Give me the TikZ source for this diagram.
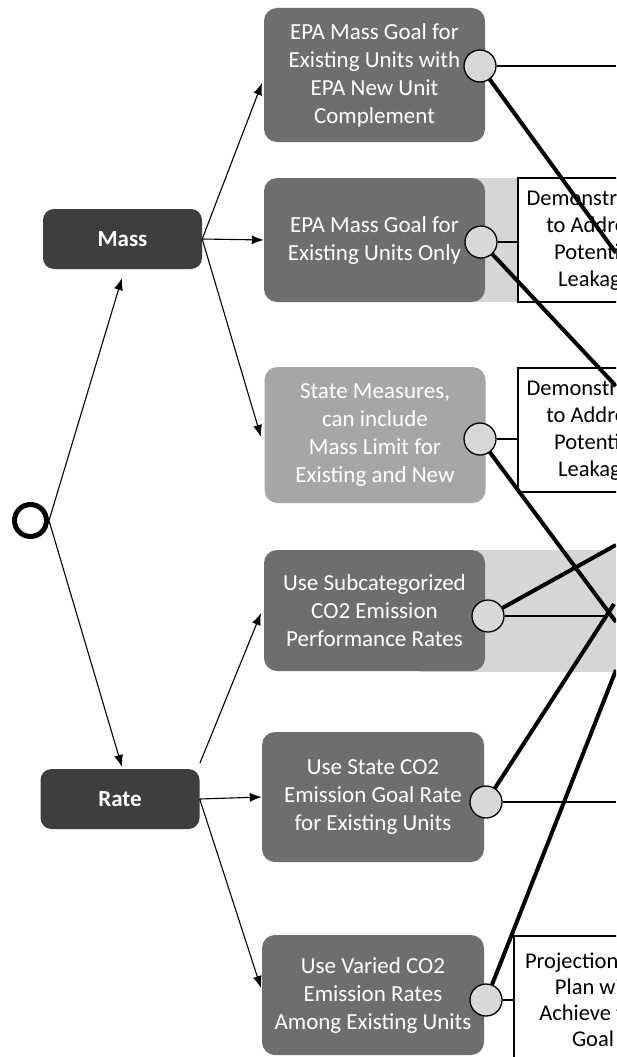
\documentclass[tikz,border=0pt]{standalone}
\usepackage{fontspec}
\setmainfont{Carlito}
\usetikzlibrary{arrows.meta}
\definecolor{boxmid}{HTML}{6E6E6E}
\definecolor{boxdark}{HTML}{3E3E3E}
\definecolor{boxlight}{HTML}{A6A6A6}
\definecolor{band}{HTML}{D6D6D6}
\definecolor{knob}{HTML}{D8D8D8}
\begin{document}
\begin{tikzpicture}[x=1pt,y=-1pt,
  optbox/.style={rounded corners=13pt, fill=#1, text=white, align=center, inner sep=0pt,
    minimum width=221pt, font=\fontsize{23}{28}\selectfont},
  catbox/.style={rounded corners=11pt, fill=boxdark, text=white, inner sep=0pt,
    minimum width=159pt, minimum height=60pt, font=\fontsize{23}{28}\selectfont\bfseries},
  knobc/.style={circle, fill=knob, draw=black, line width=1.3pt, minimum size=32pt, inner sep=0pt},
  notebox/.style={draw=black, line width=1.2pt, fill=white, align=center, inner sep=0pt,
    font=\fontsize{22.5}{27}\selectfont},
  arr/.style={-{Latex[length=12pt,width=9pt]}, line width=1.1pt},
  thin/.style={line width=1.2pt},
  thick/.style={line width=4pt}
]
\useasboundingbox (0,0) rectangle (616,1057);
\clip (0,0) rectangle (616,1057);
\fill[white] (0,0) rectangle (616,1057);

% background bands
\fill[band] (420,178) rectangle (518,302);
\fill[band] (420,550) rectangle (616,672);

% start circle
\node[circle, draw=black, line width=5pt, minimum size=32pt, inner sep=0pt] (start) at (30.5,520.5) {};

% category boxes
\node[catbox] (mass) at (122.5,239) {Mass};
\node[catbox] (rate) at (120,799) {Rate};

% option boxes
\node[optbox=boxmid, minimum height=134pt] (o1) at (374.5,75) {EPA Mass Goal for\\Existing Units with\\EPA New Unit\\Complement};
\node[optbox=boxmid, minimum height=124pt] (o2) at (374.5,240) {EPA Mass Goal for\\Existing Units Only};
\node[optbox=boxlight, minimum height=136pt] (o3) at (375,435) {State Measures,\\can include\\Mass Limit for\\Existing and New};
\node[optbox=boxmid, minimum height=121pt] (o4) at (374.5,610.5) {Use Subcategorized\\CO2 Emission\\Performance Rates};
\node[optbox=boxmid, minimum height=130pt, minimum width=222pt] (o5) at (373,797) {Use State CO2\\Emission Goal Rate\\for Existing Units};
\node[optbox=boxmid, minimum height=120pt, minimum width=222pt] (o6) at (373,995) {Use Varied CO2\\Emission Rates\\Among Existing Units};

% note boxes (cut by the picture's right edge, as in the reference)
\node[notebox, minimum width=154pt, minimum height=124pt] (d1) at (595,240) {Demonstration\\to Address\\Potential\\Leakage};
\node[notebox, minimum width=154pt, minimum height=124pt] (d2) at (595,430) {Demonstration\\to Address\\Potential\\Leakage};
\node[notebox, minimum width=158pt, minimum height=128pt, font=\fontsize{22.5}{26}\selectfont] (p) at (593,1000) {Projection that\\Plan will\\Achieve the\\Goal};

% coordinates at the picture's right edge
\coordinate (e1) at (616,66);
\coordinate (e5) at (616,802);
\coordinate (x4) at (608,616);
\coordinate (t1) at (616,253);
\coordinate (t2) at (616,386);
\coordinate (t3) at (616,622);
\coordinate (t4) at (616,545);
\coordinate (t5) at (614,604);
\coordinate (t6) at (616,670);
\coordinate (rs) at (200,763);
\coordinate (mt) at (122,278);
\coordinate (rt) at (122,767);

% arrows
\draw[arr] (start.east) -- (mt);
\draw[arr] (start.east) -- (rt);
\draw[arr] (mass.east) -- (262,83);
\draw[arr] (mass.east) -- (o2.west);
\draw[arr] (mass.east) -- (261,437);
\draw[arr] (rs) -- (261,613);
\draw[arr] (rate.east) -- (o5.west);
\draw[arr] (rate.east) -- (261,988);

% thick lines
\draw[thick] (480,66) -- (t1);
\draw[thick] (481,242) -- (t2);
\draw[thick] (480,439) -- (t3);
\draw[thick] (488,616) -- (t4);
\draw[thick] (486,802) -- (t5);
\draw[thick] (486,1000) -- (t6);

% knobs
\node[knobc] (c1) at (480,66) {};
\node[knobc] (c2) at (481,242) {};
\node[knobc] (c3) at (480,439) {};
\node[knobc] (c4) at (488,616) {};
\node[knobc] (c5) at (486,802) {};
\node[knobc] (c6) at (486,1000) {};

% thin connectors
\draw[thin] (c1.east) -- (e1);
\draw[thin] (c2.east) -- (d1.west |- c2.east);
\draw[thin] (c3.east) -- (d2.west |- c3.east);
\draw[thin] (c4.east) -- (x4);
\draw[thin] (c5.east) -- (e5);
\draw[thin] (c6.east) -- (p.west |- c6.east);
\end{tikzpicture}
\end{document}
